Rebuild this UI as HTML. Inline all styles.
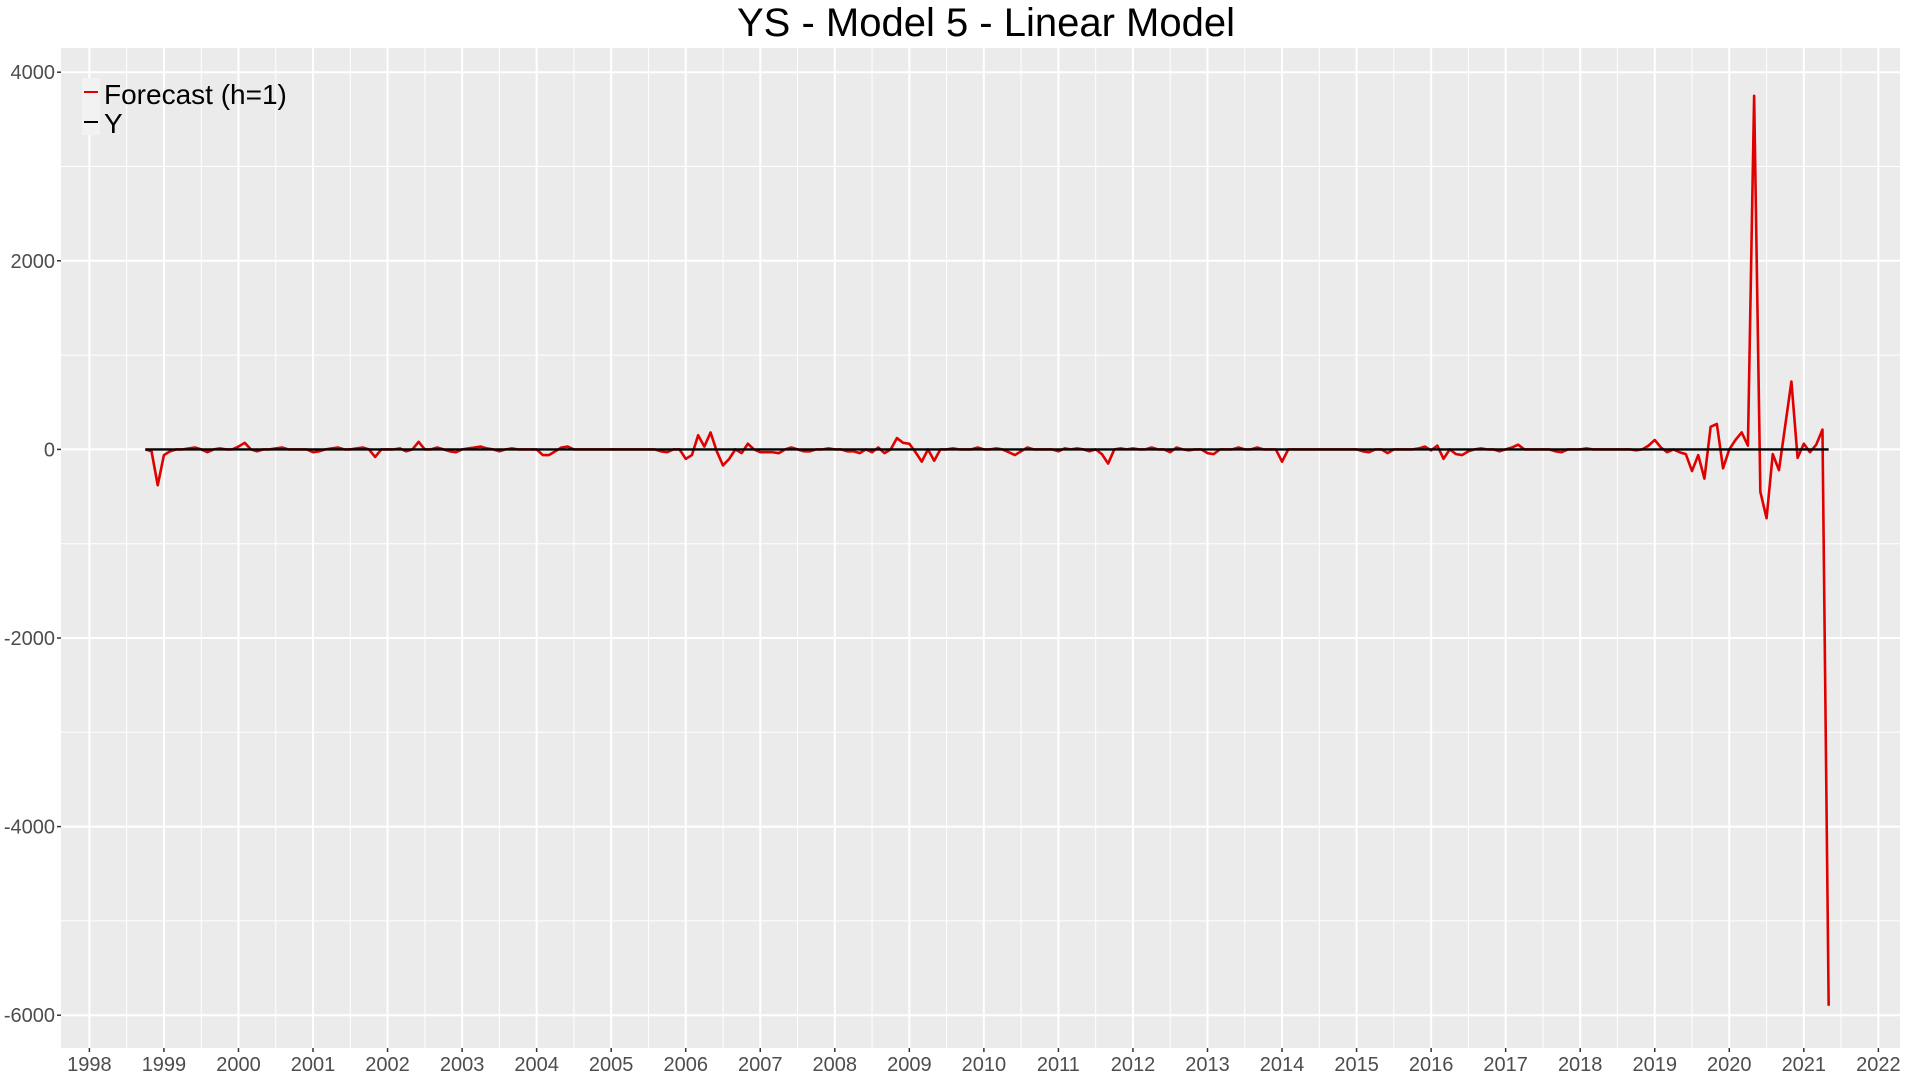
<!DOCTYPE html>
<html><head><meta charset="utf-8"><title>YS - Model 5 - Linear Model</title>
<style>html,body{margin:0;padding:0;background:#fff;}svg{display:block;font-family:"Liberation Sans",Arial,sans-serif;}</style>
</head><body>
<svg id="chart" width="1920" height="1080" viewBox="0 0 1920 1080" xmlns="http://www.w3.org/2000/svg">
<rect width="1920" height="1080" fill="#fff"/>
<text x="986" y="36" text-anchor="middle" font-size="40" fill="#000">YS - Model 5 - Linear Model</text>
<rect x="61" y="48" width="1839" height="1000" fill="#EBEBEB"/>
<g id="grid"></g><g id="axes"></g><g id="series"></g>
<g>
<rect x="82" y="78" width="18" height="57" fill="#F2F2F2"/>
<line x1="84" y1="92" x2="98" y2="92" stroke="#E00000" stroke-width="2"/>
<line x1="84" y1="122" x2="98" y2="122" stroke="#000" stroke-width="2"/>
<text x="104" y="104" font-size="28" fill="#000">Forecast (h=1)</text>
<text x="104" y="133" font-size="28" fill="#000">Y</text>
</g>
</svg>
<script>
const startYear = 1998, startMonth = 10;
const forecast = [
0,-20,-380,
-60,-20,0,0,10,20,0,-30,0,10,0,0,
30,70,0,-20,0,0,10,20,0,0,0,0,
-30,-20,0,10,20,0,0,10,20,0,-80,0,
0,0,10,-20,0,80,0,0,20,0,-20,-30,
0,10,20,30,10,0,-20,0,10,0,0,0,
0,-60,-60,-20,20,30,0,0,0,0,0,0,
0,0,0,0,0,0,0,0,-20,-30,0,0,
-100,-60,150,30,180,-20,-170,-100,0,-40,60,0,
-30,-30,-30,-40,0,20,0,-20,-20,0,0,10,
0,0,-20,-20,-40,0,-30,20,-40,0,120,70,
60,-30,-130,0,-120,0,0,10,0,0,0,20,
0,0,10,0,-30,-60,-20,20,0,0,0,0,
-20,10,0,10,0,-20,0,-50,-150,0,10,0,
10,0,0,20,0,0,-30,20,0,-10,0,0,
-40,-50,0,0,0,20,0,0,20,0,0,0,
-130,0,0,0,0,0,0,0,0,0,0,0,
0,-20,-30,0,0,-40,0,0,0,0,10,30,
-10,40,-100,0,-50,-60,-20,0,10,0,0,-20,
0,20,50,0,0,0,0,0,-20,-30,0,0,
0,10,0,0,0,0,0,0,0,-10,0,40,
100,20,-30,0,-30,-50,-230,-60,-310,240,270,-200,
0,100,180,40,3750,-450,-730,-50,-220,250,720,-90,
60,-30,50,210,-5900];
const actual = forecast.map(()=>0);
const xTicks = [1998,1999,2000,2001,2002,2003,2004,2005,2006,2007,2008,2009,2010,2011,2012,2013,2014,2015,2016,2017,2018,2019,2020,2021,2022];
const yTicks = [-6000,-4000,-2000,0,2000,4000];
const yMinor = [-5000,-3000,-1000,1000,3000];

const NS="http://www.w3.org/2000/svg";
const PL=61,PR=1900,PT=48,PB=1048;
function xs(yr){return 89.4+(yr-1998)*74.54;}
function ys(v){return 449.4-v*0.09430;}
function mk(tag,attrs,parent){const e=document.createElementNS(NS,tag);for(const k in attrs)e.setAttribute(k,attrs[k]);parent.appendChild(e);return e;}
const grid=document.getElementById('grid'),axes=document.getElementById('axes'),series=document.getElementById('series');
yMinor.forEach(v=>{const l=mk('line',{x1:PL,x2:PR,y1:ys(v),y2:ys(v),stroke:'#fff','stroke-width':1},grid);

});
xTicks.forEach(t=>{const x=xs(t+0.5);if(x<PR){const l=mk('line',{x1:x,x2:x,y1:PT,y2:PB,stroke:'#fff','stroke-width':1},grid);

}});
yTicks.forEach(v=>{const y=ys(v);
const l=mk('line',{x1:PL,x2:PR,y1:y,y2:y,stroke:'#fff','stroke-width':2},grid);


const tk=mk('line',{x1:PL-4,x2:PL,y1:y,y2:y,stroke:'#333','stroke-width':1.5},axes);


const tx=mk('text',{x:PL-6,y:y+7,'text-anchor':'end','font-size':20,fill:'#4D4D4D'},axes);
tx.textContent=v;

});
xTicks.forEach(t=>{const x=xs(t);
const l=mk('line',{x1:x,x2:x,y1:PT,y2:PB,stroke:'#fff','stroke-width':2},grid);


const tk=mk('line',{x1:x,x2:x,y1:PB,y2:PB+4,stroke:'#333','stroke-width':1.5},axes);


const tx=mk('text',{x:x,y:PB+23,'text-anchor':'middle','font-size':20,fill:'#4D4D4D'},axes);
tx.textContent=t;

});
function tAt(i){return startYear+(startMonth-1+i)/12;}
function pathOf(arr){return arr.map((v,i)=>(i?'L':'M')+xs(tAt(i)).toFixed(2)+','+ys(v).toFixed(2)).join('');}
const pf=mk('path',{d:pathOf(forecast),fill:'none',stroke:'#E00000','stroke-width':2.6,'stroke-linejoin':'round'},series);


const pa=mk('path',{d:pathOf(actual),fill:'none',stroke:'#000','stroke-width':2.4},series);


</script>
</body></html>
